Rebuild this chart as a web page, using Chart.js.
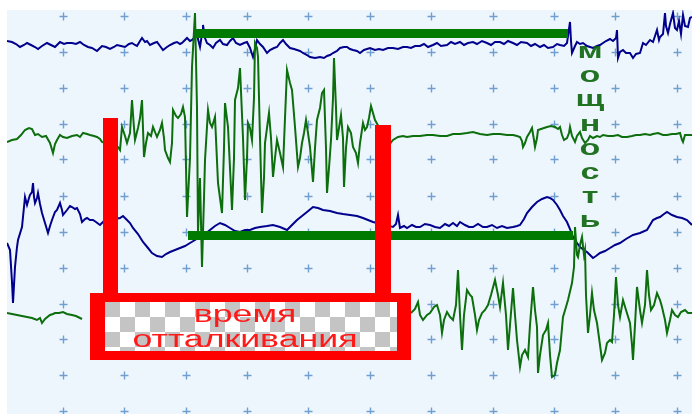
<!DOCTYPE html>
<html>
<head>
<meta charset="utf-8">
<script src="https://cdn.jsdelivr.net/npm/chart.js@4/dist/chart.umd.min.js"></script>
<style>
  html, body { margin: 0; padding: 0; background: #fff; }
  canvas { display: block; }
</style>
</head>
<body>
<canvas id="emg" width="692" height="414"></canvas>
<script>
// [time ms, amplitude relative to channel baseline]
const topBlue = [[7,5],[12,4],[16,2],[20,-1],[24,1],[27,3],[31,1],[35,-1],[38,-3],[42,0],[47,3],[51,1],[55,-1],[60,4],[64,2],[67,3],[72,3],[76,2],[80,4],[84,1],[88,-1],[92,-2],[97,-5],[100,-2],[102,0],[106,-1],[110,-3],[114,-1],[117,1],[121,0],[125,-1],[129,2],[132,3],[135,1],[137,0],[140,5],[142,8],[145,4],[147,5],[150,1],[154,3],[157,4],[160,0],[163,-4],[167,-1],[170,1],[174,3],[177,4],[180,2],[182,3],[185,6],[187,8],[190,5],[192,6],[195,9],[197,11],[199,3],[200,-1],[202,12],[203,21],[205,8],[207,3],[210,1],[213,-2],[216,3],[220,6],[223,2],[227,1],[230,5],[233,8],[236,3],[240,1],[244,3],[247,4],[250,-2],[253,-11],[255,-3],[257,6],[260,2],[263,-1],[267,-7],[270,-4],[274,-2],[277,-1],[280,3],[283,6],[286,2],[290,-2],[294,-3],[297,-4],[300,-5],[303,-7],[307,-9],[310,-11],[315,-12],[320,-11],[324,-12],[327,-10],[330,-9],[333,-7],[337,-5],[340,-2],[344,-1],[347,-1],[350,-3],[353,-4],[357,-5],[360,-7],[364,-4],[367,-3],[370,-2],[375,-4],[379,-3],[383,-4],[388,-2],[393,-2],[398,-3],[403,-1],[407,-1],[411,-2],[415,0],[420,0],[424,2],[428,-1],[433,1],[437,3],[441,0],[447,1],[451,4],[455,2],[460,4],[464,1],[468,3],[473,4],[477,2],[482,5],[487,3],[491,1],[495,4],[500,4],[504,2],[508,5],[513,3],[517,1],[521,4],[527,3],[531,0],[535,2],[540,-1],[544,1],[548,-2],[553,-1],[557,2],[560,1],[564,0],[567,3],[570,24],[571,5],[572,-7],[575,0],[577,4],[580,2],[583,3],[587,0],[590,-1],[593,-2],[597,0],[600,1],[603,3],[606,5],[610,7],[613,5],[616,8],[617,16],[618,-12],[620,-6],[623,-4],[626,-7],[630,-7],[633,-12],[636,-8],[640,-7],[643,3],[646,1],[650,6],[653,4],[655,10],[657,16],[659,6],[660,9],[663,12],[665,33],[666,20],[668,13],[670,22],[673,33],[675,18],[677,16],[679,25],[681,12],[683,31],[685,20],[688,19],[690,28],[692,29]];

const midGreen = [[7,-4],[12,-2],[17,-1],[21,3],[25,8],[29,10],[32,9],[35,3],[38,4],[42,1],[46,2],[50,-5],[53,-15],[55,-6],[57,-2],[60,3],[63,1],[67,0],[72,2],[77,3],[80,1],[83,5],[87,4],[90,3],[94,2],[97,1],[100,-1],[102,-4],[118,-9],[120,-12],[122,11],[125,2],[127,-5],[130,5],[132,38],[134,10],[135,-2],[138,10],[140,20],[142,38],[144,-19],[146,-5],[148,5],[151,2],[153,11],[155,6],[157,1],[160,8],[162,15],[164,0],[165,-12],[168,-20],[170,-24],[172,-5],[173,28],[176,22],[178,20],[181,24],[183,31],[185,21],[187,-79],[190,-20],[192,71],[195,125],[197,30],[198,-95],[200,-40],[202,-129],[204,-60],[205,-22],[208,28],[210,15],[212,11],[215,21],[218,-45],[220,-60],[222,-75],[224,-10],[225,35],[228,11],[230,-30],[232,-72],[234,-20],[235,38],[238,50],[240,70],[243,0],[245,-62],[247,-20],[248,15],[250,10],[252,-2],[254,40],[255,95],[257,90],[258,81],[260,0],[262,-75],[264,-40],[265,-5],[267,10],[269,25],[271,0],[273,-39],[275,-20],[277,-2],[280,-15],[283,-29],[285,20],[287,68],[290,55],[292,48],[295,11],[298,-29],[300,-20],[302,-5],[304,5],[306,18],[308,5],[310,-9],[313,-44],[315,-10],[317,18],[320,30],[322,45],[324,48],[326,-10],[327,-55],[329,-30],[331,-2],[333,40],[334,80],[336,30],[337,-2],[339,10],[341,23],[343,0],[344,-49],[346,-10],[348,11],[351,5],[353,-9],[356,-15],[358,-25],[360,-5],[363,15],[365,8],[367,11],[369,20],[371,32],[373,25],[375,18],[389,-7],[393,-2],[398,1],[403,2],[407,1],[413,2],[420,2],[427,3],[433,3],[440,2],[447,2],[453,4],[460,4],[467,5],[473,6],[480,4],[487,3],[493,4],[500,4],[507,3],[513,3],[517,2],[520,1],[522,-3],[523,-9],[525,-5],[527,1],[530,6],[532,10],[534,-2],[535,-9],[537,0],[538,8],[541,9],[544,10],[547,11],[551,12],[555,11],[558,9],[560,11],[562,3],[564,-2],[567,0],[569,5],[570,11],[572,2],[575,-4],[577,2],[580,6],[582,0],[585,-5],[588,-2],[590,2],[593,0],[597,2],[600,1],[603,3],[608,2],[613,2],[618,3],[622,1],[627,1],[632,2],[636,3],[640,3],[645,4],[650,3],[653,4],[658,5],[663,3],[667,3],[672,4],[676,4],[680,5],[682,-2],[683,-4],[685,3],[688,3],[692,3]];

const lowBlue = [[7,-31],[10,-38],[12,-70],[13,-91],[15,-55],[17,-35],[18,-28],[22,-15],[25,15],[27,7],[29,14],[30,17],[32,20],[33,29],[34,15],[35,9],[37,14],[38,19],[40,8],[42,-1],[45,-11],[48,-21],[50,-14],[52,-8],[55,0],[57,2],[60,9],[62,2],[63,-3],[67,2],[70,6],[72,5],[75,3],[77,4],[80,-2],[82,-10],[85,-7],[87,-6],[90,-8],[93,-8],[96,-10],[100,-13],[104,-9],[120,-6],[123,-4],[127,-8],[130,-11],[133,-16],[138,-22],[143,-30],[148,-36],[152,-41],[157,-44],[162,-45],[166,-42],[170,-40],[175,-38],[180,-36],[185,-34],[190,-31],[195,-28],[200,-25],[205,-22],[210,-18],[215,-14],[220,-11],[225,-13],[230,-16],[235,-19],[240,-20],[245,-18],[250,-18],[255,-16],[260,-15],[267,-14],[273,-13],[280,-15],[287,-18],[292,-13],[297,-8],[302,-4],[307,0],[313,5],[318,4],[323,2],[330,1],[337,-1],[343,-2],[350,-3],[357,-4],[363,-6],[368,-8],[373,-10],[393,-15],[396,-12],[398,-3],[400,-16],[404,-14],[407,-16],[412,-13],[416,-15],[420,-15],[425,-12],[430,-13],[435,-15],[440,-16],[445,-12],[449,-14],[453,-11],[457,-14],[460,-10],[465,-13],[469,-15],[473,-15],[478,-12],[483,-15],[487,-15],[492,-13],[497,-16],[502,-14],[507,-16],[513,-15],[517,-14],[520,-13],[524,-7],[527,-1],[532,5],[537,10],[542,13],[547,15],[550,14],[553,12],[557,7],[560,2],[563,-4],[567,-10],[570,-17],[573,-25],[577,-31],[580,-35],[584,-38],[587,-40],[590,-43],[593,-46],[596,-44],[600,-41],[605,-39],[610,-36],[615,-33],[620,-31],[626,-27],[633,-23],[640,-21],[647,-18],[650,-13],[653,-8],[657,-6],[660,-5],[664,-2],[667,0],[672,-3],[677,-5],[682,-6],[687,-8],[692,-13]];

const botGreen = [[7,2],[12,1],[17,0],[22,-1],[27,-2],[32,-3],[37,-5],[40,-3],[42,-8],[45,-4],[50,0],[53,1],[55,2],[59,2],[63,3],[67,1],[72,0],[76,-1],[80,-3],[82,-4],[84,null],[411,2],[415,6],[418,13],[420,0],[423,-5],[427,0],[430,2],[434,8],[437,10],[440,0],[442,-18],[444,-5],[447,3],[450,-2],[453,-5],[456,10],[458,45],[460,0],[462,-35],[464,0],[467,25],[470,20],[472,18],[475,0],[477,-15],[479,-5],[482,2],[485,5],[488,10],[491,20],[495,35],[498,20],[500,8],[503,32],[506,0],[508,-35],[510,-10],[513,27],[515,0],[517,-25],[520,-52],[522,-40],[525,-35],[528,-42],[530,-10],[533,28],[535,5],[537,-12],[538,-58],[540,-40],[543,-20],[546,-15],[548,-8],[550,-40],[552,-62],[555,-60],[557,-48],[560,-35],[563,-2],[566,8],[568,15],[572,32],[574,48],[575,88],[577,60],[578,58],[580,70],[582,78],[584,60],[585,65],[586,20],[588,-18],[590,0],[592,22],[594,5],[597,-8],[600,-30],[602,-45],[605,-38],[607,-28],[610,-25],[612,-27],[614,0],[616,38],[618,10],[620,-2],[623,15],[626,5],[630,-8],[632,-30],[633,-45],[635,-10],[637,28],[640,5],[642,-8],[645,10],[647,45],[649,20],[651,5],[654,10],[657,22],[660,15],[662,8],[665,-5],[667,-18],[670,-5],[672,5],[675,0],[678,-2],[681,3],[685,5],[688,2],[692,2]];

// grid "+" marks
const gridTimes = [63, 124, 186, 247, 308, 370, 431, 493, 554, 615, 677];
const gridLevels = [398, 362, 326, 290, 255, 218, 182, 146, 110, 75, 39, 3];

// channel baselines on the shared amplitude axis
const channelBase = [368, 276, 202, 99];

const powerWord = "мощность";
const labelLines = ["время", "отталкивания"];

function toPoints(trace, base) {
  return trace.map(([t, a]) => ({ x: t, y: a === null ? null : base + a }));
}

const overlayPlugin = {
  id: "overlay",
  beforeDatasetsDraw(chart) {
    const { ctx, chartArea: a, scales: { x, y } } = chart;
    ctx.save();
    ctx.fillStyle = "#eef6fd";
    ctx.fillRect(a.left, a.top, a.right - a.left, a.bottom - a.top);
    ctx.strokeStyle = "#6f9ed0";
    ctx.lineWidth = 1.4;
    gridTimes.forEach((t) => {
      gridLevels.forEach((v) => {
        const px = Math.round(x.getPixelForValue(t)) + 0.5;
        const py = Math.round(y.getPixelForValue(v)) + 0.5;
        ctx.beginPath();
        ctx.moveTo(px - 4, py);
        ctx.lineTo(px + 4, py);
        ctx.moveTo(px, py - 4);
        ctx.lineTo(px, py + 4);
        ctx.stroke();
      });
    });
    ctx.restore();
  },
  afterDatasetsDraw(chart) {
    const { ctx, scales: { x, y } } = chart;
    const X = (t) => x.getPixelForValue(t);
    const Y = (v) => y.getPixelForValue(v);
    ctx.save();

    // green power bars
    ctx.fillStyle = "#007a00";
    ctx.fillRect(X(195), Y(385), X(568) - X(195), 9);
    ctx.fillRect(X(188), Y(183), X(573) - X(188), 9);

    // red bracket
    ctx.fillStyle = "#ff0000";
    ctx.fillRect(X(103), Y(296), X(118) - X(103), Y(121) - Y(296));
    ctx.fillRect(X(375), Y(289), X(391) - X(375), Y(121) - Y(289));
    ctx.fillRect(X(90), Y(121), X(411) - X(90), Y(54) - Y(121));

    // checker inside the box
    const l = X(105), r = X(397), t = Y(112), b = Y(63);
    ctx.save();
    ctx.beginPath();
    ctx.rect(l, t, r - l, b - t);
    ctx.clip();
    ctx.fillStyle = "#ffffff";
    ctx.fillRect(l, t, r - l, b - t);
    ctx.fillStyle = "#c4c4c4";
    const cell = 15;
    for (let row = 0; row * cell < b - t; row++) {
      for (let col = 0; col * cell < r - l; col++) {
        if ((row + col) % 2 === 0) {
          ctx.fillRect(l + col * cell, t + row * cell, cell, cell);
        }
      }
    }
    ctx.restore();

    // label text, stretched wide
    ctx.font = "23px 'Liberation Sans', Arial, sans-serif";
    const sx = 225 / ctx.measureText(labelLines[1]).width;
    ctx.fillStyle = "#ff1a1a";
    ctx.textAlign = "center";
    ctx.textBaseline = "alphabetic";
    [[labelLines[0], 92], [labelLines[1], 67]].forEach(([s, v]) => {
      ctx.save();
      ctx.translate(X(245), Y(v));
      ctx.scale(sx, 1);
      ctx.fillText(s, 0, 0);
      ctx.restore();
    });

    // vertical word
    ctx.font = "bold 22px 'Liberation Sans', Arial, sans-serif";
    ctx.fillStyle = "rgba(10, 100, 10, 0.9)";
    Array.from(powerWord).forEach((ch, i) => {
      ctx.save();
      ctx.translate(X(590), Y(356 - i * 24.2));
      ctx.scale(1.55, 1);
      ctx.fillText(ch, 0, 0);
      ctx.restore();
    });

    ctx.restore();
  },
};

new Chart(document.getElementById("emg"), {
  type: "line",
  data: {
    datasets: [
      {
        data: toPoints(midGreen, channelBase[1]),
        borderColor: "#0c6e0c",
        borderWidth: 2,
      },
      {
        data: toPoints(botGreen, channelBase[3]),
        borderColor: "#0c6e0c",
        borderWidth: 2,
      },
      {
        data: toPoints(topBlue, channelBase[0]),
        borderColor: "#00008c",
        borderWidth: 2,
      },
      {
        data: toPoints(lowBlue, channelBase[2]),
        borderColor: "#00008c",
        borderWidth: 2,
      },
    ],
  },
  options: {
    responsive: false,
    animation: false,
    layout: { padding: { left: 7, top: 10, right: 0, bottom: 0 } },
    elements: { point: { radius: 0 }, line: { tension: 0 } },
    plugins: { legend: { display: false }, tooltip: { enabled: false } },
    scales: {
      x: { type: "linear", min: 7, max: 692, display: false },
      y: { type: "linear", min: 0, max: 404, display: false },
    },
  },
  plugins: [overlayPlugin],
});
</script>
</body>
</html>
